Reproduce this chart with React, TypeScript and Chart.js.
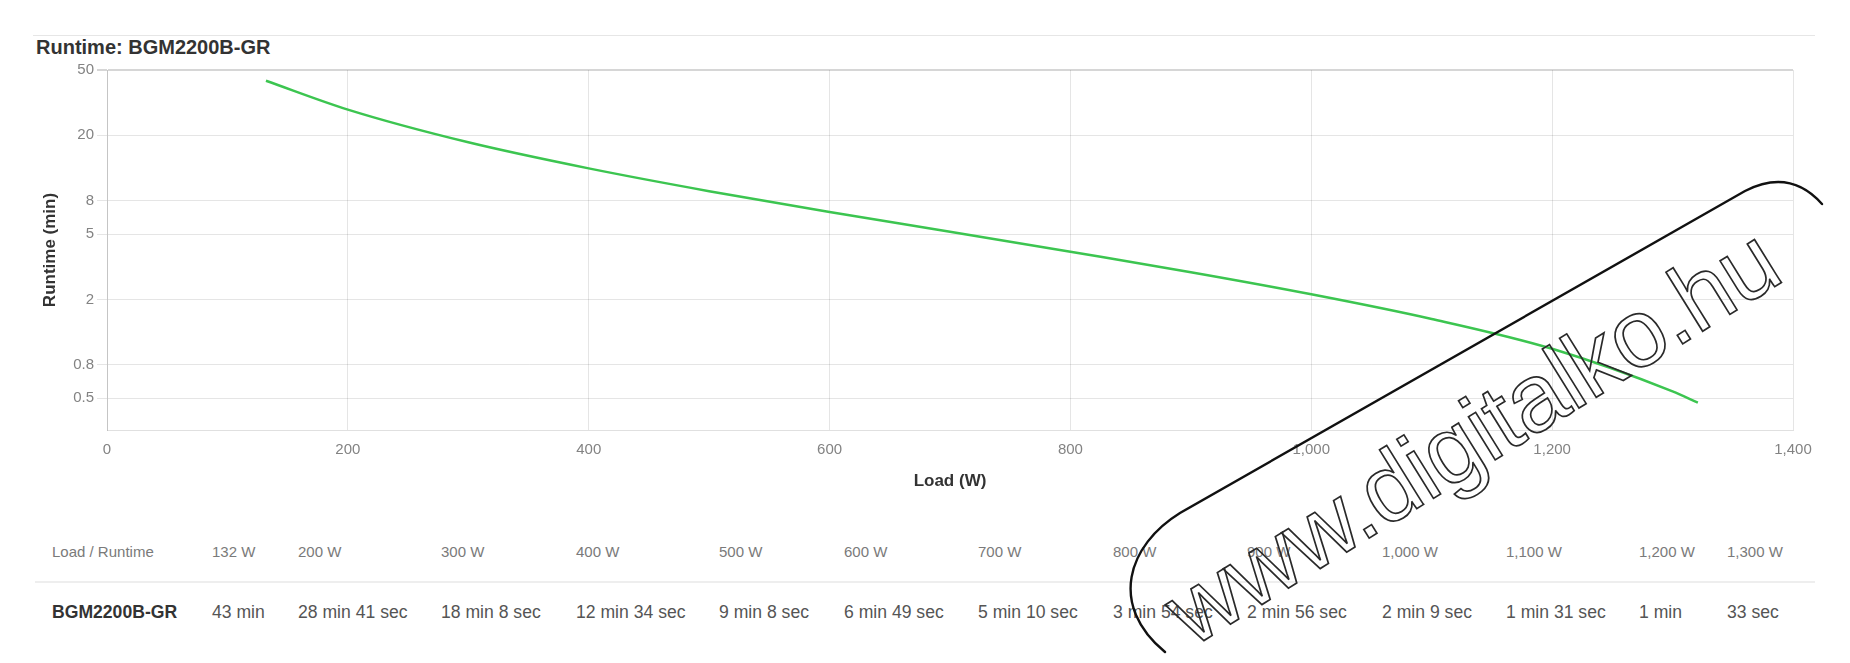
import React, { useEffect, useRef } from "react";
import { Chart, registerables } from "chart.js";

Chart.register(...registerables);

// ---- data ----
const chartTitle = "Runtime: BGM2200B-GR";
const modelName = "BGM2200B-GR";
const loadsW = [132, 200, 300, 400, 500, 600, 700, 800, 900, 1000, 1100, 1200, 1300, 1321];
const runtimeMin = [43, 28.68, 18.13, 12.57, 9.13, 6.82, 5.17, 3.9, 2.93, 2.15, 1.52, 1.0, 0.55, 0.47];
const yTickValues = [0.5, 0.8, 2, 5, 8, 20, 50];
const xMin = 0;
const xMax = 1400;
const xStep = 200;
const yMin = 0.32;
const yMax = 50;
const tableHeaderLabel = "Load / Runtime";
const tableLoadLabels = [
  "132 W", "200 W", "300 W", "400 W", "500 W", "600 W", "700 W",
  "800 W", "900 W", "1,000 W", "1,100 W", "1,200 W", "1,300 W",
];
const tableRuntimeLabels = [
  "43 min", "28 min 41 sec", "18 min 8 sec", "12 min 34 sec", "9 min 8 sec",
  "6 min 49 sec", "5 min 10 sec", "3 min 54 sec", "2 min 56 sec", "2 min 9 sec",
  "1 min 31 sec", "1 min", "33 sec",
];
const watermarkText = "www.digitalko.hu";

// ---- layout / style ----
const FONT = "'Liberation Sans', Arial, Helvetica, sans-serif";
const colWidths = [177, 86, 143, 135, 143, 125, 134, 135, 134, 135, 124, 133, 88, 88];

function RuntimeChart() {
  const ref = useRef<HTMLCanvasElement | null>(null);
  useEffect(() => {
    if (!ref.current) return;
    const chart = new Chart(ref.current, {
      type: "line",
      data: {
        datasets: [
          {
            label: modelName,
            data: loadsW.map((x, i) => ({ x, y: runtimeMin[i] })),
            borderColor: "#3cc550",
            backgroundColor: "#3cc550",
            borderWidth: 2.5,
            pointRadius: 0,
            pointHoverRadius: 0,
            fill: false,
            cubicInterpolationMode: "monotone",
          },
        ],
      },
      options: {
        animation: false,
        responsive: false,
        maintainAspectRatio: false,
        layout: { padding: { top: 30, left: 36, right: 57, bottom: 14 } },
        plugins: {
          legend: { display: false },
          title: { display: false },
          tooltip: { enabled: false },
        },
        scales: {
          x: {
            type: "linear",
            min: xMin,
            max: xMax,
            bounds: "data",
            grid: {
              color: "rgba(0,0,0,0.1)",
              drawTicks: false,
              lineWidth: 1,
            },
            border: { color: "rgba(0,0,0,0.12)" },
            ticks: {
              stepSize: xStep,
              padding: 11,
              color: "#838383",
              font: { family: FONT, size: 15 },
              maxRotation: 0,
              callback: (v: any) => Number(v).toLocaleString("en-US"),
            },
            title: {
              display: true,
              text: "Load (W)",
              color: "#333",
              font: { family: FONT, size: 17, weight: "bold" },
              padding: { top: 4, bottom: 4 },
            },
            afterFit: (s: any) => {
              s.height = 66;
            },
          },
          y: {
            type: "logarithmic",
            min: yMin,
            max: yMax,
            bounds: "data",
            afterBuildTicks: (s: any) => {
              s.ticks = yTickValues.map((v) => ({ value: v }));
            },
            grid: {
              color: (c: any) =>
                c.tick && c.tick.value === yMax ? "rgba(0,0,0,0.16)" : "rgba(0,0,0,0.1)",
              lineWidth: (c: any) => (c.tick && c.tick.value === yMax ? 2 : 1),
              drawTicks: true,
              tickLength: 10,
            },
            border: { color: "rgba(0,0,0,0.14)" },
            ticks: {
              padding: 3,
              color: "#838383",
              font: { family: FONT, size: 15 },
              autoSkip: false,
              callback: (v: any) => String(v),
            },
            title: {
              display: true,
              text: "Runtime (min)",
              color: "#333",
              font: { family: FONT, size: 17, weight: "bold" },
              padding: { top: 4, bottom: 4 },
            },
            afterFit: (s: any) => {
              s.width = 71;
            },
          },
        },
      },
    } as any);
    return () => chart.destroy();
  }, []);
  return (
    <canvas
      ref={ref}
      width={1850}
      height={470}
      style={{ position: "absolute", left: 0, top: 40, width: 1850, height: 470 }}
    />
  );
}

export default function App() {
  const cellBase: React.CSSProperties = {
    padding: 0,
    textAlign: "left",
    whiteSpace: "nowrap",
    verticalAlign: "middle",
    fontFamily: FONT,
  };
  return (
    <div
      style={{
        position: "absolute",
        left: 0,
        top: 0,
        width: 1850,
        height: 663,
        background: "#fff",
        overflow: "hidden",
        fontFamily: FONT,
      }}
    >
      <div
        style={{
          position: "absolute",
          left: 33,
          top: 35,
          width: 1782,
          height: 1,
          background: "#e6e6e6",
        }}
      />
      <div
        style={{
          position: "absolute",
          left: 36,
          top: 37,
          fontSize: 20,
          lineHeight: "20px",
          fontWeight: "bold",
          color: "#333",
          whiteSpace: "nowrap",
        }}
      >
        {chartTitle}
      </div>
      <RuntimeChart />
      <table
        style={{
          position: "absolute",
          left: 35,
          top: 522,
          width: 1780,
          borderCollapse: "collapse",
          tableLayout: "fixed",
        }}
      >
        <colgroup>
          {colWidths.map((w, i) => (
            <col key={i} style={{ width: w }} />
          ))}
        </colgroup>
        <tbody>
          <tr style={{ height: 60 }}>
            <td style={{ ...cellBase, paddingLeft: 17, fontSize: 15, color: "#7a7a7a", borderBottom: "2px solid #eeeeee" }}>
              {tableHeaderLabel}
            </td>
            {tableLoadLabels.map((t, i) => (
              <td key={i} style={{ ...cellBase, fontSize: 15, color: "#7a7a7a", borderBottom: "2px solid #eeeeee" }}>
                {t}
              </td>
            ))}
          </tr>
          <tr style={{ height: 60 }}>
            <td style={{ ...cellBase, paddingLeft: 17, fontSize: 17.6, fontWeight: "bold", color: "#333" }}>
              {modelName}
            </td>
            {tableRuntimeLabels.map((t, i) => (
              <td key={i} style={{ ...cellBase, fontSize: 17.6, color: "#555" }}>
                {t}
              </td>
            ))}
          </tr>
        </tbody>
      </table>
      <svg
        width={1850}
        height={663}
        style={{ position: "absolute", left: 0, top: 0, pointerEvents: "none" }}
      >
        <path
          d="M 1822 204 Q 1790 168 1745 191 L 1180 513 C 1128 545 1108 605 1165 652"
          fill="none"
          stroke="#111"
          strokeWidth={2.4}
          strokeLinecap="round"
        />
        <text
          x={0}
          y={0}
          transform="translate(1192 648) rotate(-31.8)"
          fontFamily={FONT}
          fontSize={96}
          fill="none"
          stroke="#2a2a2a"
          strokeWidth={1.7}
          textLength={700}
          lengthAdjust="spacing"
        >
          {watermarkText}
        </text>
      </svg>
    </div>
  );
}
